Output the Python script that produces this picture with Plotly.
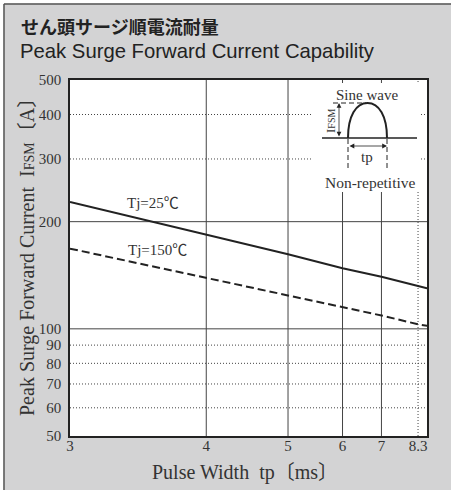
import plotly.graph_objects as go
import math

# ---- data ----
tp = [3, 4, 5, 6, 7, 8.3, 8.7]                       # pulse width [ms]
ifsm_tj25 = [227, 184, 162, 148, 140, 132, 130]      # Tj=25C   [A]
ifsm_tj150 = [168, 139, 124, 115, 109, 103, 102]     # Tj=150C  [A]

x_tick_vals = [3, 4, 5, 6, 7, 8.3]
x_tick_text = ["3", "4", "5", "6", "7", "8.3"]
x_grid_major = [4, 5, 6, 7]
x_grid_minor = [8.3]

y_tick_vals = [50, 60, 70, 80, 90, 100, 200, 300, 400, 500]
y_tick_text = ["50", "60", "70", "80", "90", "100", "200", "300", "400", "500"]
y_grid_major = [100, 200]
y_grid_minor = [60, 70, 80, 90, 300, 400]

label_25 = ("Tj=25℃", 3.54, 226)
label_150 = ("Tj=150℃", 3.57, 166)

# the x axis of the original is graduated in 1/tp
def xs(t):
    return 1.0 / t

SERIF = "Liberation Serif, 'Noto Sans CJK JP', serif"
SANS = "Liberation Sans, Arial, sans-serif"
CJK = "'Noto Sans CJK JP', sans-serif"
TXT = "#333333"
LINE = "#222222"
GRID = "#444444"

W, H = 451, 490
L, R, T, B = 70, 427, 80, 436


def px(x):
    return (x - L) / (R - L)


def py(y):
    return (B - y) / (B - T)


fig = go.Figure()

fig.add_trace(go.Scatter(x=[xs(t) for t in tp], y=ifsm_tj25, mode="lines",
                         line=dict(color=LINE, width=2), showlegend=False,
                         hoverinfo="skip"))
fig.add_trace(go.Scatter(x=[xs(t) for t in tp], y=ifsm_tj150, mode="lines",
                         line=dict(color=LINE, width=2, dash="8px,4px"),
                         showlegend=False, hoverinfo="skip"))

shapes = []
# grid lines (axis-referenced, drawn below traces)
for t in x_grid_major:
    shapes.append(dict(type="line", xref="x", yref="y domain", x0=xs(t), x1=xs(t),
                       y0=0, y1=1, line=dict(color=GRID, width=1), layer="below"))
for t in x_grid_minor:
    shapes.append(dict(type="line", xref="x", yref="y domain", x0=xs(t), x1=xs(t),
                       y0=0, y1=1, line=dict(color=GRID, width=1, dash="1px,2px"),
                       layer="below"))
for v in y_grid_major:
    shapes.append(dict(type="line", xref="x domain", yref="y", x0=0, x1=1,
                       y0=v, y1=v, line=dict(color=GRID, width=1), layer="below"))
for v in y_grid_minor:
    shapes.append(dict(type="line", xref="x domain", yref="y", x0=0, x1=1,
                       y0=v, y1=v, line=dict(color=GRID, width=1, dash="1px,2px"),
                       layer="below"))

# white box behind the inset
shapes.append(dict(type="rect", xref="x domain", yref="y domain",
                   x0=px(313), x1=px(421), y0=py(192), y1=py(83),
                   fillcolor="white", line=dict(width=0), layer="below"))

# outer panel border / white strip
shapes.append(dict(type="rect", xref="paper", yref="paper",
                   x0=px(-5), x1=px(W + 5), y0=py(-5), y1=py(3.5),
                   fillcolor="white", line=dict(width=0), layer="above"))
shapes.append(dict(type="rect", xref="paper", yref="paper",
                   x0=px(-5), x1=px(3.5), y0=py(H + 5), y1=py(-5),
                   fillcolor="white", line=dict(width=0), layer="above"))
shapes.append(dict(type="line", xref="paper", yref="paper",
                   x0=px(4), x1=px(W + 5), y0=py(4), y1=py(4),
                   line=dict(color="#555555", width=1.5), layer="above"))
shapes.append(dict(type="line", xref="paper", yref="paper",
                   x0=px(4), x1=px(4), y0=py(4), y1=py(H + 5),
                   line=dict(color="#555555", width=1.5), layer="above"))

# inset schematic
ink = "#222222"
shapes.append(dict(type="line", xref="paper", yref="paper",
                   x0=px(322), x1=px(417), y0=py(138), y1=py(138),
                   line=dict(color=ink, width=1.5), layer="above"))
arch = (f"M {px(348)},{py(138)} C {px(348)},{py(116)} {px(356)},{py(103)} {px(367.5)},{py(103)} "
        f"C {px(379)},{py(103)} {px(387)},{py(116)} {px(387)},{py(138)}")
shapes.append(dict(type="path", xref="paper", yref="paper", path=arch,
                   line=dict(color=ink, width=2), layer="above"))
shapes.append(dict(type="line", xref="paper", yref="paper",
                   x0=px(333), x1=px(366), y0=py(103), y1=py(103),
                   line=dict(color=ink, width=1, dash="5px,3px"), layer="above"))
for xv in (348, 387):
    shapes.append(dict(type="line", xref="paper", yref="paper",
                       x0=px(xv), x1=px(xv), y0=py(139), y1=py(169),
                       line=dict(color=ink, width=1, dash="5px,3px"), layer="above"))

annotations = []


def arrow(x0, y0, x1, y1):
    annotations.append(dict(xref="paper", yref="paper", x=px(x1), y=py(y1),
                            axref="pixel", ayref="pixel", ax=x0 - x1, ay=y0 - y1,
                            text="", showarrow=True, arrowside="end+start",
                            arrowhead=2, arrowsize=1.2, arrowwidth=0.8,
                            arrowcolor=ink, standoff=0, startstandoff=0))


arrow(339, 138, 339, 103)
arrow(348, 146, 387, 146)


def text(x, y, s, size, family=SERIF, anchor="center", angle=0, color=TXT, weight="normal"):
    annotations.append(dict(xref="paper", yref="paper", x=px(x), y=py(y), text=s,
                            showarrow=False, xanchor=anchor, yanchor="middle",
                            textangle=angle,
                            font=dict(family=family, size=size, color=color, weight=weight)))


text(367, 95, "Sine wave", 15)
text(367, 157, "tp", 15)
text(370, 182, "Non-repetitive", 15.5)
text(330, 121, "I<span style='font-size:10px'>FSM</span>", 13, angle=-90)

# titles
text(19, 25.5, "せん頭サージ順電流耐量", 18, family=CJK, anchor="left", color="#222222", weight="bold")
text(18, 51, "Peak Surge Forward Current Capability", 20.3, family=SANS, anchor="left", color="#222222")

# axis titles
text(28, 252, "Peak Surge Forward Current\u00a0\u00a0I<span style='font-size:14px'>FSM</span>〔A〕",
     20, angle=-90)
text(245, 472, "Pulse Width\u00a0\u00a0tp〔ms〕", 20)

# curve labels (data coordinates)
for s, t, v in (label_25, label_150):
    annotations.append(dict(xref="x", yref="y", x=xs(t), y=math.log10(v), text=s,
                            showarrow=False, xanchor="center", yanchor="middle",
                            font=dict(family=SERIF, size=15, color=TXT)))

fig.update_layout(
    width=W, height=H,
    margin=dict(l=L, r=W - R, t=T, b=H - B, pad=0),
    paper_bgcolor="#d3d3d4",
    plot_bgcolor="white",
    shapes=shapes,
    annotations=annotations,
    showlegend=False,
    xaxis=dict(range=[xs(3), 0.115], tickvals=[xs(t) for t in x_tick_vals],
               ticktext=x_tick_text, showgrid=False, zeroline=False,
               showline=True, mirror=True, linecolor=LINE, linewidth=1.5,
               ticks="", ticklabelstandoff=-5, automargin=False,
               tickfont=dict(family=SERIF, size=15, color=TXT)),
    yaxis=dict(type="log", range=[math.log10(50), math.log10(500)],
               tickvals=y_tick_vals, ticktext=y_tick_text, showgrid=False,
               zeroline=False, showline=True, mirror=True, linecolor=LINE,
               linewidth=1.5, ticks="", ticklabelstandoff=4, automargin=False,
               tickfont=dict(family=SERIF, size=15, color=TXT)),
)

fig.write_html("out.html", config={"displayModeBar": False},
               post_script="document.body.style.margin='0px';")
